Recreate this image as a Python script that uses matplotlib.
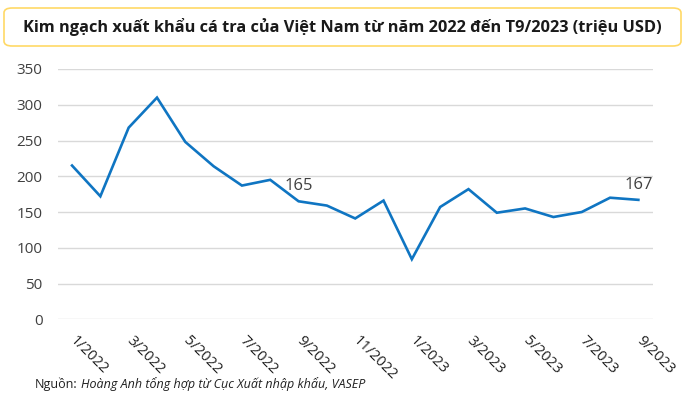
import matplotlib
matplotlib.use("Agg")
import matplotlib.pyplot as plt
from matplotlib.patches import FancyBboxPatch

months = ["1/2022", "2/2022", "3/2022", "4/2022", "5/2022", "6/2022", "7/2022",
          "8/2022", "9/2022", "10/2022", "11/2022", "12/2022", "1/2023", "2/2023",
          "3/2023", "4/2023", "5/2023", "6/2023", "7/2023", "8/2023", "9/2023"]
values = [215, 172, 268, 310, 248, 214, 187, 195, 165, 159, 141, 166,
          84, 157, 182, 149, 155, 143, 150, 170, 167]
yticks = [0, 50, 100, 150, 200, 250, 300, 350]
title = "Kim ngạch xuất khẩu cá tra của Việt Nam từ năm 2022 đến T9/2023 (triệu USD)"
source_lbl = "Nguồn:"
source_txt = "Hoàng Anh tổng hợp từ Cục Xuất nhập khẩu, VASEP"
labelled = {"9/2022": "165", "9/2023": "167"}

plt.rcParams['font.family'] = ['Open Sans', 'DejaVu Sans']

fig = plt.figure(figsize=(6.85, 4.0), dpi=100)
ax = fig.add_axes([0.0845, 0.2018, 0.8681, 0.6257])

x = list(range(len(months)))
ax.plot(x, values, color='#0F75C2', lw=1.9, solid_joinstyle='miter')
ax.set_xlim(-0.5, len(months) - 0.5)
ax.set_ylim(0, 350)
ax.set_yticks(yticks)
ax.set_yticklabels([str(v) for v in yticks], fontsize=11, color='#404040')
ax.set_xticks(x[::2])
ax.set_xticklabels(months[::2], rotation=-45, ha='left', va='center',
                   rotation_mode='anchor', fontsize=10.5, color='#202020')
ax.tick_params(axis='both', length=0)
ax.tick_params(axis='y', pad=11)
ax.tick_params(axis='x', pad=13.5)
ax.grid(axis='y', color='#D9D9D9', lw=1)
ax.set_axisbelow(True)
for s in ax.spines.values():
    s.set_visible(False)

for i, m in enumerate(months):
    if m in labelled:
        ax.annotate(labelled[m], (i, values[i]), xytext=(0, 5), textcoords='offset points',
                    ha='center', va='bottom', fontsize=12, color='#404040')

box = FancyBboxPatch((4 / 685, 1 - 46 / 400), 677 / 685, 38 / 400,
                     boxstyle="round,pad=0,rounding_size=0.012",
                     transform=fig.transFigure, facecolor='white',
                     edgecolor='#FFD966', lw=1.2)
fig.patches.append(box)
fig.text(0.5, 1 - 27 / 400, title, ha='center', va='center', fontsize=11.8,
         fontweight='bold', color='#1a1a1a')

t1 = fig.text(35 / 685, 1 - 384 / 400, source_lbl, ha='left', va='center',
              fontsize=9, color='#202020')
fig.canvas.draw()
bb = t1.get_window_extent()
fig.text((bb.x1 + 3) / 685, 1 - 384 / 400, source_txt, ha='left', va='center',
         fontsize=9, color='#202020', fontstyle='italic')

fig.savefig('out.png', dpi=100)
